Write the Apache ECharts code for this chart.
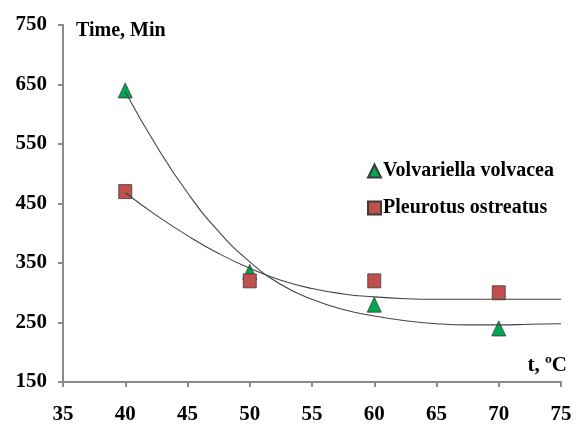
<!DOCTYPE html>
<html>
<head>
<meta charset="utf-8">
<script src="https://cdn.jsdelivr.net/npm/echarts@6/dist/echarts.min.js"></script>
<style>
html,body{margin:0;padding:0;background:#fff;}
#c{width:579px;height:426px;}
</style>
</head>
<body>
<div id="c"></div>
<script>
// Measured points
const tempX = [40, 50, 60, 70];
const volvariella = [640, 335, 280, 240];
const pleurotus = [470, 320, 320, 300];
// Trend curves
const curveX = [40, 42.5, 45, 47.5, 50, 52.5, 55, 57.5, 60, 62.5, 65, 67.5, 70, 72.5, 75];
const volvariellaFit = [638, 547, 468, 403, 352, 314, 289, 272, 261, 253, 248, 246, 246, 247, 248];
const pleurotusFit = [468, 430, 396, 366, 341, 321, 307, 298, 293, 290, 289, 289, 289, 289, 289];
const xTicks = [35, 40, 45, 50, 55, 60, 65, 70, 75];
const yTicks = [150, 250, 350, 450, 550, 650, 750];

const FONT = 'Liberation Serif';
const pairs = (xs, ys) => xs.map((x, i) => [x, ys[i]]);

const chart = echarts.init(document.getElementById('c'));
chart.setOption({
  animation: false,
  backgroundColor: '#fff',
  grid: {left: 63, right: 18, top: 25, bottom: 44},
  xAxis: {
    type: 'value', min: xTicks[0], max: xTicks[xTicks.length - 1], interval: 5,
    axisLine: {lineStyle: {color: '#8a8a8a', width: 2}},
    axisTick: {show: true, inside: false, length: 5, lineStyle: {color: '#8a8a8a', width: 2}},
    splitLine: {show: false},
    axisLabel: {margin: 22, color: '#000', fontFamily: FONT, fontWeight: 'bold', fontSize: 21}
  },
  yAxis: {
    type: 'value', min: yTicks[0], max: yTicks[yTicks.length - 1], interval: 100,
    axisLine: {show: true, lineStyle: {color: '#8a8a8a', width: 2}},
    axisTick: {show: true, inside: false, length: 5, lineStyle: {color: '#8a8a8a', width: 2}},
    splitLine: {show: false},
    axisLabel: {margin: 16, color: '#000', fontFamily: FONT, fontWeight: 'bold', fontSize: 21}
  },
  legend: {
    orient: 'vertical', left: 362, top: 156, itemGap: 17,
    itemWidth: 13, itemHeight: 13,
    textStyle: {color: '#000', fontFamily: FONT, fontWeight: 'bold', fontSize: 20, padding: [0, 0, 0, -3]},
    data: [
      {name: 'Volvariella volvacea', icon: 'triangle'},
      {name: 'Pleurotus ostreatus', icon: 'rect'}
    ]
  },
  graphic: [
    {type: 'text', left: 76, top: 21, style: {text: 'Time, Min', fill: '#000', font: 'bold 20px "Liberation Serif"'}},
    {type: 'text', right: 12, top: 355, style: {text: 't, ºC', fill: '#000', font: 'bold 21px "Liberation Serif"'}}
  ],
  series: [
    {
      name: 'Volvariella volvacea', type: 'scatter', symbol: 'triangle', symbolSize: [14, 15], z: 2,
      itemStyle: {color: '#00A650', borderColor: '#3a3a3a', borderWidth: 0.8, opacity: 1},
      data: pairs(tempX, volvariella)
    },
    {
      name: 'Pleurotus ostreatus', type: 'scatter', symbol: 'rect', symbolSize: [13, 14], z: 3,
      itemStyle: {color: '#C0504D', borderColor: '#3a3a3a', borderWidth: 0.8, opacity: 1},
      data: pairs(tempX, pleurotus)
    },
    {
      name: 'fitV', type: 'line', smooth: 0.5, showSymbol: false, z: 4, silent: true,
      lineStyle: {color: '#444', width: 1.1},
      data: pairs(curveX, volvariellaFit)
    },
    {
      name: 'fitP', type: 'line', smooth: 0.5, showSymbol: false, z: 4, silent: true,
      lineStyle: {color: '#444', width: 1.1},
      data: pairs(curveX, pleurotusFit)
    }
  ]
});
</script>
</body>
</html>
